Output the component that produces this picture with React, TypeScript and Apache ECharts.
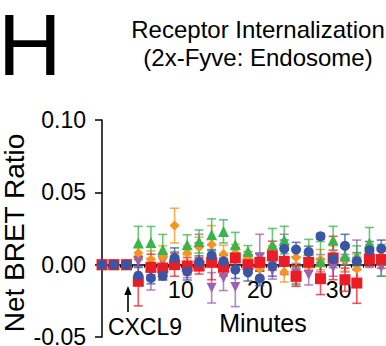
import React, { useEffect, useRef } from "react";
import * as echarts from "echarts";

const times = [0, 1.5, 3.1, 4.6, 6.2, 7.7, 9.2, 10.8, 12.3, 13.9, 15.4, 16.9, 18.5, 20.0, 21.6, 23.1, 24.6, 26.2, 27.7, 29.3, 30.8, 32.3, 33.9, 35.4];

const redMean = [0, 0, 0, -0.0115, -0.0018, -0.0023, 0.0, -0.001, -0.001, 0.0016, -0.0018, 0.0046, 0.0, 0.0016, 0.0062, 0.0023, -0.008, 0.0016, -0.0097, 0.0046, -0.0104, -0.0127, 0.004, 0.0035];
const redErr = [0, 0, 0, 0.017, 0.009, 0.008, 0.008, 0.006, 0.0055, 0.012, 0.006, 0.007, 0.004, 0.006, 0.01, 0.009, 0.007, 0.006, 0.011, 0.015, 0.008, 0.014, 0.005, 0.006];

const blueMean = [0, 0, 0, -0.0076, -0.0092, -0.0076, 0.0046, -0.0046, 0.0016, 0.0064, 0.0023, -0.0035, -0.0053, -0.0095, -0.001, 0.011, 0.0104, 0.0088, 0.0196, 0.004, 0.013, 0.0023, 0.01, 0.011];
const blueErr = [0, 0, 0, 0.006, 0.004, 0.003, 0.007, 0.006, 0.0045, 0.004, 0.004, 0.006, 0.006, 0.005, 0.007, 0.006, 0.005, 0.004, 0.002, 0.006, 0.008, 0.006, 0.006, 0.006];

const greenMean = [0, 0, 0, 0.015, 0.0154, 0.0104, 0.003, 0.0138, 0.016, 0.0207, 0.023, 0.0138, 0.0092, 0.002, 0.014, 0.017, -0.008, 0.01, 0.002, 0.017, 0.006, 0.006, 0.015, 0.003];
const greenErr = [0, 0, 0, 0.0115, 0.011, 0.0105, 0.006, 0.0069, 0.008, 0.011, 0.008, 0.0085, 0.004, 0.006, 0.011, 0.0095, 0.006, 0.0075, 0.014, 0.0095, 0.006, 0.007, 0.0107, 0.011];

const orangeMean = [0, 0, 0, 0.008, 0.0035, 0.005, 0.027, 0.008, 0.012, 0.014, 0.0074, 0.008, 0.004, -0.003, 0.005, -0.005, 0.005, 0.003, 0.0035, 0.007, 0.0035, -0.003, 0.008, 0.006];
const orangeErr = [0, 0, 0, 0.004, 0.006, 0.008, 0.012, 0.005, 0.007, 0.013, 0.006, 0.006, 0.005, 0.006, 0.008, 0.007, 0.006, 0.006, 0.007, 0.006, 0.008, 0.01, 0.006, 0.006];

const purpleMean = [0, 0, 0, 0.002, -0.01, 0.002, 0.002, -0.005, 0.012, -0.016, -0.0092, -0.0154, 0.004, 0.005, -0.004, 0.01, -0.006, -0.007, 0.001, -0.002, 0.001, 0.002, 0.003, -0.002];
const purpleErr = [0, 0, 0, 0.004, 0.0075, 0.004, 0.004, 0.004, 0.009, 0.0105, 0.0087, 0.0136, 0.005, 0.016, 0.006, 0.011, 0.007, 0.007, 0.006, 0.006, 0.006, 0.015, 0.005, 0.006];

const yTicks = [-0.05, 0.0, 0.05, 0.1];
const xLabelStep = 10;
const FONT = "'Liberation Sans', Arial, Helvetica, sans-serif";

type SeriesDef = { name: string; color: string; symbol: string; size: number; rotate: number; mean: number[]; err: number[] };

const seriesDefs: SeriesDef[] = [
  { name: "purple", color: "#9e5fb4", symbol: "triangle", size: 10, rotate: 180, mean: purpleMean, err: purpleErr },
  { name: "orange", color: "#f7941d", symbol: "diamond", size: 10, rotate: 0, mean: orangeMean, err: orangeErr },
  { name: "green", color: "#39b54a", symbol: "triangle", size: 11, rotate: 0, mean: greenMean, err: greenErr },
  { name: "red", color: "#ed1c24", symbol: "rect", size: 11, rotate: 0, mean: redMean, err: redErr },
  { name: "blue", color: "#3a55a5", symbol: "circle", size: 10, rotate: 0, mean: blueMean, err: blueErr },
];

const GRID_TOP = 120;
const GRID_BOTTOM = 9;
const H = 346;

export default function App() {
  const ref = useRef<HTMLDivElement>(null);
  useEffect(() => {
    if (!ref.current) return;
    const chart = echarts.init(ref.current, undefined, { renderer: "svg" });
    const ymin = yTicks[0];
    const ymax = yTicks[yTicks.length - 1];
    const plotH = H - GRID_TOP - GRID_BOTTOM;
    const zeroOffset = -plotH * (0 - ymin) / (ymax - ymin);
    const series: any[] = [];
    seriesDefs.forEach((s) => {
      series.push({
        type: "custom",
        name: s.name + "-err",
        xAxisIndex: 0,
        yAxisIndex: 0,
        data: times.map((t, i) => [t, s.mean[i] - s.err[i], s.mean[i] + s.err[i]]),
        encode: { x: 0, y: [1, 2] },
        renderItem: (params: any, api: any) => {
          const x = api.value(0);
          const lo = api.coord([x, api.value(1)]);
          const hi = api.coord([x, api.value(2)]);
          if (Math.abs(lo[1] - hi[1]) < 0.5) return { type: "group", children: [] };
          const hw = 4.5;
          const style = { stroke: s.color, lineWidth: 1.6, opacity: 0.75 };
          return {
            type: "group",
            children: [
              { type: "line", shape: { x1: lo[0], y1: lo[1], x2: hi[0], y2: hi[1] }, style },
              { type: "line", shape: { x1: lo[0] - hw, y1: lo[1], x2: lo[0] + hw, y2: lo[1] }, style },
              { type: "line", shape: { x1: hi[0] - hw, y1: hi[1], x2: hi[0] + hw, y2: hi[1] }, style },
            ],
          };
        },
        silent: true,
      });
      series.push({
        type: "scatter",
        name: s.name,
        xAxisIndex: 0,
        yAxisIndex: 0,
        symbol: s.symbol,
        symbolSize: s.size,
        symbolRotate: s.rotate,
        itemStyle: { color: s.color, opacity: 1 },
        data: times.map((t, i) => [t, s.mean[i]]),
      });
    });

    const option: any = {
      animation: false,
      grid: [
        { left: 102, right: 0, top: GRID_TOP, bottom: GRID_BOTTOM, containLabel: false, outerBoundsMode: "none" },
        { left: 108, right: -6, top: GRID_TOP, bottom: GRID_BOTTOM, containLabel: false, outerBoundsMode: "none" },
      ],
      xAxis: [
        {
          type: "value",
          gridIndex: 0,
          position: "bottom",
          offset: zeroOffset,
          min: 0,
          max: 36,
          interval: xLabelStep,
          axisLine: { onZero: false, lineStyle: { color: "#000", width: 1.5 } },
          axisTick: { show: false },
          splitLine: { show: false },
          axisLabel: {
            margin: 14,
            fontSize: 23,
            color: "#000",
            fontFamily: FONT,
            showMinLabel: false,
            showMaxLabel: false,
            formatter: (v: number) => (v === 0 || v === 36 ? "" : String(v)),
          },
        },
        {
          type: "value",
          gridIndex: 1,
          position: "bottom",
          offset: zeroOffset,
          min: 0,
          max: 36,
          interval: 1.54,
          axisLine: { show: false, onZero: false },
          axisTick: { show: true, length: 3, inside: false, lineStyle: { color: "#000", width: 1.2 } },
          splitLine: { show: false },
          axisLabel: { show: false },
        },
      ],
      yAxis: [
        {
          type: "value",
          gridIndex: 0,
          min: ymin,
          max: ymax,
          interval: 0.05,
          axisLine: { show: true, onZero: false, lineStyle: { color: "#000", width: 1.5 } },
          axisTick: { show: true, length: 7, lineStyle: { color: "#000", width: 1.5 } },
          splitLine: { show: false },
          axisLabel: {
            margin: 16,
            fontSize: 23,
            color: "#000",
            fontFamily: FONT,
            formatter: (v: number) => v.toFixed(2),
          },
        },
        {
          type: "value",
          gridIndex: 1,
          min: ymin,
          max: ymax,
          show: false,
          axisLine: { onZero: false },
        },
      ],
      series,
      graphic: [
        { type: "text", x: -2, y: 44, style: { text: "H", fontSize: 88, fontFamily: FONT, fill: "#000", textVerticalAlign: "middle" } },
        { type: "text", x: 258, y: 29, style: { text: "Receptor Internalization", fontSize: 24, fontFamily: FONT, fill: "#000", textAlign: "center", textVerticalAlign: "middle" } },
        { type: "text", x: 258, y: 57, style: { text: "(2x-Fyve: Endosome)", fontSize: 24, fontFamily: FONT, fill: "#000", textAlign: "center", textVerticalAlign: "middle" } },
        { type: "text", x: 14, y: 233, rotation: Math.PI / 2, style: { text: "Net BRET Ratio", fontSize: 28, fontFamily: FONT, fill: "#000", textAlign: "center", textVerticalAlign: "middle" } },
        { type: "text", x: 263, y: 323, style: { text: "Minutes", fontSize: 25, fontFamily: FONT, fill: "#000", textAlign: "center", textVerticalAlign: "middle" } },
        { type: "text", x: 145, y: 327, style: { text: "CXCL9", fontSize: 23, fontFamily: FONT, fill: "#000", textAlign: "center", textVerticalAlign: "middle" } },
        { type: "line", shape: { x1: 128, y1: 312, x2: 128, y2: 292 }, style: { stroke: "#000", lineWidth: 1.6 } },
        { type: "polygon", shape: { points: [[128, 286], [124.3, 295], [131.7, 295]] }, style: { fill: "#000" } },
      ],
    };
    chart.setOption(option);
    return () => chart.dispose();
  }, []);
  return <div ref={ref} style={{ position: "absolute", left: 0, top: 0, width: 386, height: 346 }} />;
}
